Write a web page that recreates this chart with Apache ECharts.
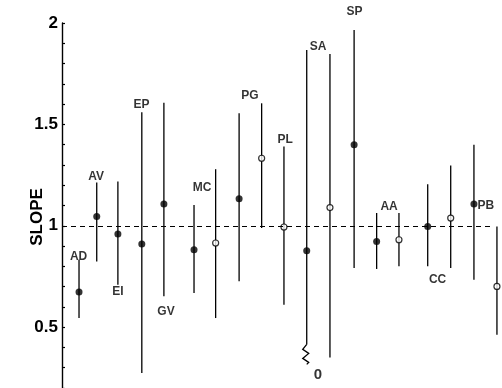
<!DOCTYPE html>
<html>
<head>
<meta charset="utf-8">
<script src="https://cdn.jsdelivr.net/npm/echarts@6/dist/echarts.min.js"></script>
<style>
html,body{margin:0;padding:0;background:#fff;}
#c{width:502px;height:388px;}
</style>
</head>
<body>
<div id="c"></div>
<script>
// ---- data ----
// horizontal position of each estimate (arbitrary units along a hidden axis)
var xPos   = [0.74, 1.51, 2.43, 3.47, 4.43, 5.74, 6.68, 7.70, 8.68, 9.65, 10.64, 11.65, 12.70, 13.68, 14.65, 15.90, 16.90, 17.91, 18.91];
var slope  = [0.673, 1.046, 0.959, 0.910, 1.107, 0.882, 0.915, 1.133, 1.333, 0.994, 0.877, 1.090, 1.399, 0.923, 0.931, 0.997, 1.038, 1.108, 0.701];
var upper  = [0.833, 1.213, 1.218, 1.560, 1.607, 1.103, 1.279, 1.555, 1.604, 1.391, 1.867, 1.847, 1.966, 1.063, 1.063, 1.205, 1.297, 1.399, 0.997];
var lower  = [0.545, 0.824, 0.709, 0.274, 0.652, 0.668, 0.545, 0.726, 0.989, 0.611, 0.000, 0.350, 0.792, 0.787, 0.800, 0.800, 0.792, 0.734, 0.463];
var openMk = [false, false, false, false, false, false, true, false, true, true, false, true, false, false, true, false, true, false, true];
// group labels and their anchor positions (data units)
var labelText = ['AD', 'AV', 'EI', 'EP', 'GV', 'MC', 'PG', 'PL', 'SA', 'SP', 'AA', 'CC', 'PB'];
var labelX    = [0.72, 1.48, 2.43, 3.46, 4.52, 6.09, 8.17, 9.70, 11.13, 12.72, 14.22, 16.33, 18.43];
var labelY    = [0.847, 1.241, 0.675, 1.596, 0.576, 1.187, 1.640, 1.424, 1.882, 2.054, 1.094, 0.734, 1.099];
var breakText = '0';
var breakTextPos = [11.13, 0.266];
var yTicks    = [0.5, 1, 1.5, 2];
var refSlope  = 1;

// ---- build ----
var Y_MIN = 0.2, Y_MAX = 2, BREAK_AT = 0.415;
var barData = xPos.map(function (x, i) { return [x, lower[i], upper[i]]; });
var filled = [], hollow = [];
xPos.forEach(function (x, i) { (openMk[i] ? hollow : filled).push([x, slope[i]]); });
var labels = labelText.map(function (t, i) { return { name: t, value: [labelX[i], labelY[i]] }; });
labels.push({ name: breakText, value: breakTextPos, label: { fontSize: 15 } });

var chart = echarts.init(document.getElementById('c'));
var FONT = 'Liberation Sans';
chart.setOption({
  animation: false,
  backgroundColor: '#fff',
  grid: { left: 62, right: 0, top: 23, bottom: 0, containLabel: false },
  xAxis: { type: 'value', min: 0, max: 19.13, show: false },
  yAxis: {
    type: 'value', min: Y_MIN, max: Y_MAX, interval: 0.1,
    axisLine: { show: true, lineStyle: { color: '#000', width: 1.4 } },
    axisTick: { show: true, inside: true, length: 3, lineStyle: { color: '#000', width: 1.2 } },
    splitLine: { show: false },
    axisLabel: {
      margin: 4, color: '#000', fontFamily: FONT, fontWeight: 'bold', fontSize: 17,
      formatter: function (v) {
        var r = Math.round(v * 10) / 10;
        return yTicks.indexOf(r) >= 0 ? String(r) : '';
      }
    }
  },
  graphic: [{
    type: 'text', x: 37, y: 217, rotation: Math.PI / 2,
    style: { text: 'SLOPE', fill: '#000', font: 'bold 17px "Liberation Sans"', align: 'center', verticalAlign: 'middle' }
  }],
  series: [
    {
      type: 'custom', data: barData, z: 2,
      renderItem: function (params, api) {
        var x = api.value(0), lo = api.value(1), hi = api.value(2);
        var broken = lo < Y_MIN;
        var pHi = api.coord([x, hi]);
        var pLo = api.coord([x, broken ? BREAK_AT : lo]);
        var children = [{
          type: 'line',
          shape: { x1: pHi[0], y1: pHi[1], x2: pLo[0], y2: pLo[1] },
          style: { stroke: '#000', lineWidth: 1.3 }
        }];
        if (broken) {
          var px = pLo[0], py = pLo[1];
          children.push({
            type: 'polyline',
            shape: { points: [[px, py], [px - 4, py + 5], [px + 2, py + 9], [px - 4, py + 14], [px + 2, py + 18], [px, py + 20]] },
            style: { stroke: '#000', lineWidth: 1.3, fill: null }
          });
        }
        return { type: 'group', children: children };
      }
    },
    {
      type: 'scatter', data: filled, symbol: 'circle', symbolSize: 7, z: 4,
      itemStyle: { color: '#000' },
      markLine: {
        silent: true, symbol: 'none', label: { show: false },
        lineStyle: { color: '#000', type: [5, 4], width: 1.2 },
        data: [[{ coord: [0, refSlope] }, { coord: [18.75, refSlope] }]]
      }
    },
    {
      type: 'scatter', data: hollow, symbol: 'circle', symbolSize: 6, z: 4,
      itemStyle: { color: '#fff', borderColor: '#000', borderWidth: 1.2 }
    },
    {
      type: 'scatter', data: labels, symbolSize: 1, z: 5, clip: false,
      itemStyle: { color: 'rgba(0,0,0,0)' },
      label: {
        show: true, position: 'inside', color: '#000', fontFamily: FONT, fontWeight: 'bold', fontSize: 12,
        formatter: function (p) { return p.name; }
      }
    }
  ]
});
</script>
</body>
</html>
